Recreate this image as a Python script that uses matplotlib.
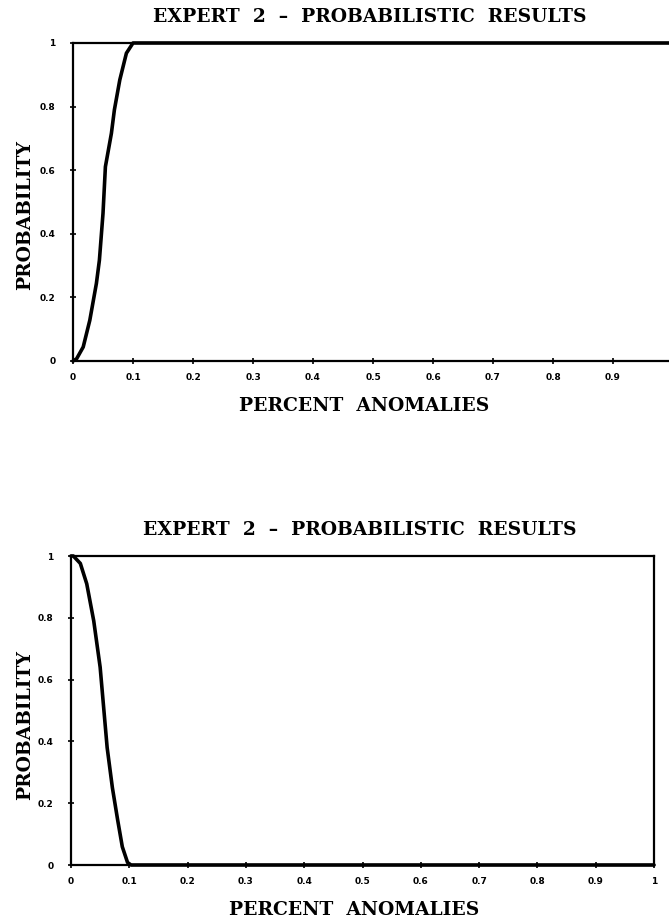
import matplotlib
matplotlib.use("Agg")
import matplotlib.pyplot as plt

# cumulative probability vs percent anomalies
x_cdf = [0.0, 0.006, 0.017, 0.028, 0.039, 0.044, 0.050, 0.054, 0.064, 0.069, 0.078, 0.089, 0.100, 1.0]
p_cdf = [0.0, 0.007, 0.044, 0.128, 0.244, 0.317, 0.464, 0.611, 0.716, 0.790, 0.884, 0.968, 1.0, 1.0]

# and the exceedance curve of the lower panel
x_exc = [0.0, 0.004, 0.016, 0.027, 0.039, 0.050, 0.056, 0.062, 0.071, 0.080, 0.088, 0.097, 0.103, 1.0]
p_exc = [1.0, 1.0, 0.976, 0.910, 0.790, 0.640, 0.510, 0.380, 0.250, 0.146, 0.059, 0.008, 0.0, 0.0]

x_ticks = [0, 0.1, 0.2, 0.3, 0.4, 0.5, 0.6, 0.7, 0.8, 0.9, 1]
x_labels = ["0", "0.1", "0.2", "0.3", "0.4", "0.5", "0.6", "0.7", "0.8", "0.9", "1"]
y_ticks = [0, 0.2, 0.4, 0.6, 0.8, 1]
y_labels = ["0", "0.2", "0.4", "0.6", "0.8", "1"]

title = "EXPERT  2  –  PROBABILISTIC  RESULTS"
xlab = "PERCENT  ANOMALIES"
ylab = "PROBABILITY"

W, H = 669, 921
serif = "DejaVu Serif"
fs = 13.5

fig = plt.figure(figsize=(W / 100, H / 100), dpi=100)


def px_text(x, y, s, **kw):
    # place a text by its centre, in pixels from the top-left corner
    fig.text(x / W, 1 - y / H, s, ha="center", va="center", family=serif,
             fontweight="bold", fontsize=fs, **kw)


def make_panel(box, xs, ys, title_xy, xlab_xy, ylab_xy):
    left, top, right, bottom = box
    ax = fig.add_axes([left / W, 1 - bottom / H, (right - left) / W, (bottom - top) / H])
    ax.plot(xs, ys, color="black", lw=2.6, solid_capstyle="round", clip_on=False, zorder=3)
    ax.set_xlim(0, 1)
    ax.set_ylim(0, 1)
    ax.set_xticks(x_ticks)
    ax.set_xticklabels(x_labels)
    ax.set_yticks(y_ticks)
    ax.set_yticklabels(y_labels)
    ax.tick_params(direction="inout", length=4, width=1.2, labelsize=6.5)
    ax.tick_params(axis="x", pad=6.5)
    ax.tick_params(axis="y", pad=10.5)
    for lab in ax.get_xticklabels() + ax.get_yticklabels():
        lab.set_fontweight("bold")
    for s in ax.spines.values():
        s.set_linewidth(1.6)
    px_text(*title_xy, title)
    px_text(*xlab_xy, xlab)
    px_text(*ylab_xy, ylab, rotation=90)
    return ax


# top panel runs off the right edge of the page, as in the scan
make_panel((73, 43, 673, 361), x_cdf, p_cdf, (370, 17), (364, 406), (25, 215))
make_panel((71, 556, 654, 865), x_exc, p_exc, (360, 530), (354, 910), (25, 725))

fig.savefig("out.png", dpi=100)
